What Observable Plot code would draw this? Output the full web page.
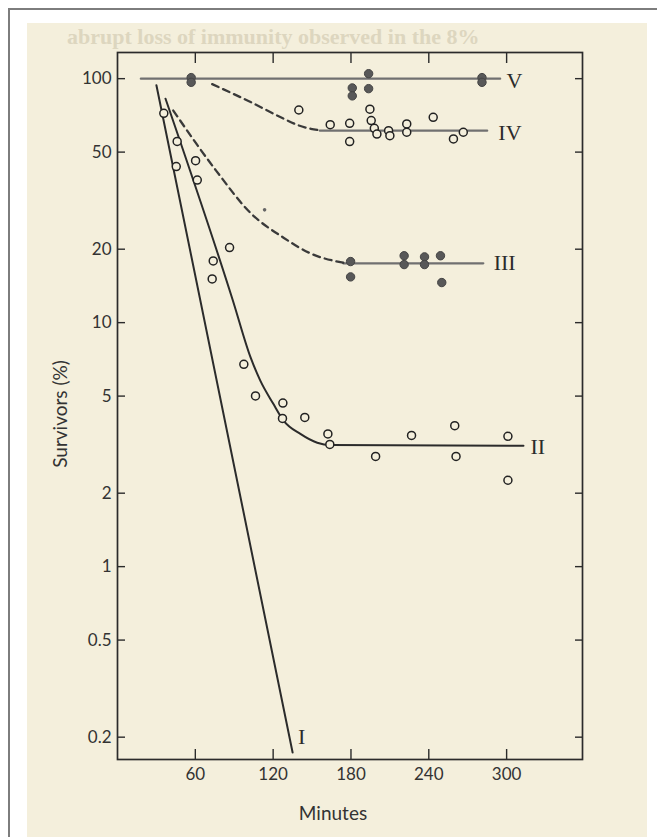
<!DOCTYPE html>
<html><head><meta charset="utf-8">
<script src="https://cdn.jsdelivr.net/npm/d3@7"></script>
<script src="https://cdn.jsdelivr.net/npm/@observablehq/plot@0.6"></script>
<style>
html,body{margin:0;padding:0;background:#fff;}
#page{position:relative;width:657px;height:837px;overflow:hidden;background:#fff;}
#border{position:absolute;left:8px;top:8px;width:680px;height:860px;border:2px solid #7d7d7d;box-sizing:border-box;}
#paper{position:absolute;left:27px;top:23px;width:620px;height:830px;background:#f4efdc;overflow:hidden;}
.ghost{position:absolute;font-family:"Liberation Serif",serif;white-space:nowrap;}
#chart{position:absolute;left:0;top:0;}
</style></head><body>
<div id="page">
  <div id="border"></div>
  <div id="paper">
    <div class="ghost" style="left:40px;top:1px;font-size:22px;font-weight:bold;color:#ddd6bf;">abrupt loss of immunity observed in the 8%</div>
  </div>
  <div id="chart"></div>
</div>
<script>
// ---- data ----
const minutesTicks = [60, 120, 180, 240, 300];
const survivorTicks = [0.2, 0.5, 1, 2, 5, 10, 20, 50, 100];
const xTitle = "Minutes";
const yTitle = "Survivors (%)";

// fitted curves (minutes, survivors %)
const curveI_t = [30, 135];
const curveI_v = [94, 0.173];
const curveII_t = [37, 89, 102.6, 110, 120, 128, 141, 154, 164, 313];
const curveII_v = [82.8, 12.3, 7.2, 5.8, 4.66, 3.97, 3.5, 3.22, 3.15, 3.13];
const curveIIIdash_t = [43, 76, 103, 128, 149, 174];
const curveIIIdash_v = [74, 42, 28, 22.3, 19.2, 17.6];
const curveIIIflat_t = [174, 282];
const curveIIIflat_v = [17.5, 17.5];
const curveIVdash_t = [73, 103, 128, 139, 149, 156];
const curveIVdash_v = [95, 80, 68.6, 64.5, 62.3, 61.4];
const curveIVflat_t = [156, 285];
const curveIVflat_v = [61.2, 61.2];
const curveV_t = [18, 295];
const curveV_v = [100, 100];

// observed points
const filledV_t = [56.8, 56.8, 193.6, 193.6, 181, 181, 281, 281];
const filledV_v = [101, 96.6, 104.8, 91, 91.6, 85, 101, 96.6];
const filledIII_t = [179.7, 179.7, 221, 221, 236.7, 236.7, 249, 250];
const filledIII_v = [17.8, 15.4, 18.8, 17.3, 18.6, 17.3, 18.8, 14.6];
const smallDot_t = [113.4];
const smallDot_v = [29];
const openIV_t = [139.8, 164, 179, 179, 194.6, 195.6, 198, 200, 209, 210, 223, 223, 243.4, 259, 266.6];
const openIV_v = [74.4, 64.8, 65.6, 55.2, 75, 67.3, 62.6, 59.3, 61.2, 58.4, 65.2, 60.3, 69.4, 56.6, 60.3];
const openEarly_t = [35.7, 46, 45.3, 60.2, 61.5, 86.4, 73.8, 73];
const openEarly_v = [72.1, 55.3, 43.6, 46.1, 38.4, 20.3, 17.9, 15.1];
const openII_t = [97.4, 106.4, 127.5, 127.2, 144.4, 162.2, 163.7, 199, 226.7, 260, 261, 301, 301];
const openII_v = [6.75, 5.01, 4.68, 4.05, 4.09, 3.5, 3.17, 2.83, 3.45, 3.78, 2.83, 3.42, 2.26];

// curve labels
const labelNames = ["V", "IV", "III", "II"];
const labelT = [300, 293.6, 290, 318.4];
const labelV = [98, 60, 17.5, 3.08];
const labelI = {name: "I", t: 142, v: 0.2};

// ---- helpers ----
const zip = (t, v) => t.map((d, i) => ({t: d, v: v[i]}));
const paper = "#f4efdc";
const ink = "#2b2b2b";

const chart = Plot.plot({
  width: 657,
  height: 837,
  marginLeft: 117,
  marginRight: 75,
  marginTop: 52,
  marginBottom: 78,
  style: {background: "transparent", fontFamily: "Lato, 'Open Sans', sans-serif", fontSize: "17px", color: "#333"},
  x: {domain: [0, 358.5]},
  y: {type: "log", domain: [0.162, 128]},
  marks: [
    // inward ticks
    Plot.axisX(minutesTicks, {anchor: "bottom", tickSize: -10, stroke: ink, strokeWidth: 1.4, fill: "none"}),
    Plot.axisX(minutesTicks, {anchor: "top", tickSize: -10, stroke: ink, strokeWidth: 1.4, fill: "none"}),
    Plot.axisY(survivorTicks, {anchor: "left", tickSize: -8, stroke: ink, strokeWidth: 1.4, fill: "none"}),
    Plot.axisY(survivorTicks, {anchor: "right", tickSize: -8, stroke: ink, strokeWidth: 1.4, fill: "none"}),
    // tick labels
    Plot.axisX(minutesTicks, {anchor: "bottom", tickSize: 0, tickPadding: 8, fill: "#333", fontSize: 17, label: null}),
    Plot.axisY(survivorTicks, {anchor: "left", tickSize: 0, tickPadding: 6, fill: "#333", fontSize: 17,
      tickFormat: d => String(d), label: null}),
    // axis titles
    Plot.text([xTitle], {frameAnchor: "bottom", dy: 54, dx: -17, text: d => d, fontSize: 19, fill: "#333", lineAnchor: "middle", textAnchor: "middle"}),
    Plot.text([yTitle], {frameAnchor: "left", dx: -57, dy: 8, text: d => d, rotate: -90, fontSize: 19, fill: "#333", lineAnchor: "middle", textAnchor: "middle"}),
    // horizontal plateau lines (grey, stippled print)
    Plot.line(zip(curveV_t, curveV_v), {x: "t", y: "v", stroke: "#707070", strokeWidth: 2.3}),
    Plot.line(zip(curveIVflat_t, curveIVflat_v), {x: "t", y: "v", stroke: "#707070", strokeWidth: 2.3}),
    Plot.line(zip(curveIIIflat_t, curveIIIflat_v), {x: "t", y: "v", stroke: "#707070", strokeWidth: 2.3}),
    // dashed approach curves
    Plot.line(zip(curveIVdash_t, curveIVdash_v), {x: "t", y: "v", curve: "monotone-x", stroke: "#3a3a3a", strokeWidth: 2.3, strokeDasharray: "7,5"}),
    Plot.line(zip(curveIIIdash_t, curveIIIdash_v), {x: "t", y: "v", curve: "monotone-x", stroke: "#3a3a3a", strokeWidth: 2.3, strokeDasharray: "7,5"}),
    // solid curves
    Plot.line(zip(curveI_t, curveI_v), {x: "t", y: "v", stroke: ink, strokeWidth: 2}),
    Plot.line(zip(curveII_t, curveII_v), {x: "t", y: "v", curve: "monotone-x", stroke: ink, strokeWidth: 2}),
    // points
    Plot.dot(zip(openEarly_t, openEarly_v), {x: "t", y: "v", r: 4, fill: paper, stroke: "#222", strokeWidth: 1.5}),
    Plot.dot(zip(openIV_t, openIV_v), {x: "t", y: "v", r: 4, fill: paper, stroke: "#222", strokeWidth: 1.5}),
    Plot.dot(zip(openII_t, openII_v), {x: "t", y: "v", r: 4, fill: paper, stroke: "#222", strokeWidth: 1.5}),
    Plot.dot(zip(filledV_t, filledV_v), {x: "t", y: "v", r: 4.2, fill: "#585858", stroke: "#444", strokeWidth: 1}),
    Plot.dot(zip(filledIII_t, filledIII_v), {x: "t", y: "v", r: 4.2, fill: "#585858", stroke: "#444", strokeWidth: 1}),
    Plot.dot(zip(smallDot_t, smallDot_v), {x: "t", y: "v", r: 1.8, fill: "#666"}),
    // curve labels
    Plot.text(labelNames.map((n, i) => ({n, t: labelT[i], v: labelV[i]})), {x: "t", y: "v", text: "n", textAnchor: "start",
      fontFamily: "'Liberation Serif', 'DejaVu Serif', serif", fontSize: 22, fill: ink}),
    Plot.text([labelI], {x: "t", y: "v", text: "name", textAnchor: "middle",
      fontFamily: "'Liberation Serif', 'DejaVu Serif', serif", fontSize: 22, fill: ink}),
    // frame
    Plot.frame({stroke: ink, strokeWidth: 1.7})
  ]
});
document.getElementById("chart").appendChild(chart);
</script>
</body></html>
